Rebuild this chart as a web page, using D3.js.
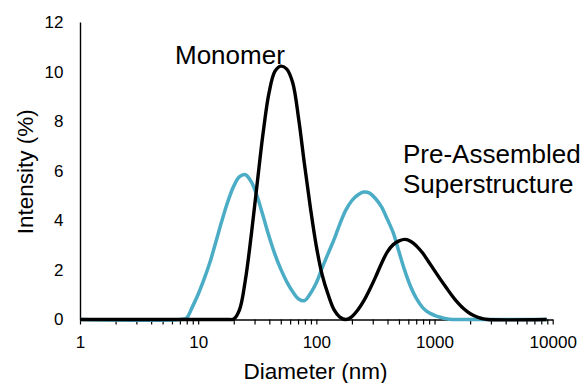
<!DOCTYPE html>
<html>
<head>
<meta charset="utf-8">
<script src="https://cdn.jsdelivr.net/npm/d3@7"></script>
<style>
  body { margin: 0; background: #fff; }
  svg { display: block; font-family: "Liberation Sans", Arial, sans-serif; }
</style>
</head>
<body>
<svg id="chart" width="586" height="383"></svg>
<script>
// diameters (nm) and intensity (%)
const diameters = [1, 7.08, 7.94, 8.91, 10, 11.2, 12.6, 14.1, 15.8, 17.8, 20, 22.4, 25.1, 28.2, 31.6, 35.5, 39.8, 44.7, 50.1, 56.2, 63.1, 70.8, 79.4, 89.1, 100, 112, 126, 141, 158, 178, 200, 224, 251, 282, 316, 355, 398, 447, 501, 562, 631, 708, 794, 891, 1000, 1122, 1259, 1413, 1585, 1778, 1995, 2239, 2512, 2818, 8900];

const blueSeries = [0, 0, 0.05, 0.5, 1.02, 1.62, 2.32, 3.12, 3.95, 4.75, 5.38, 5.76, 5.84, 5.55, 4.96, 4.16, 3.35, 2.62, 2.02, 1.52, 1.12, 0.83, 0.76, 1.05, 1.48, 2.08, 2.67, 3.22, 3.85, 4.42, 4.8, 5.02, 5.14, 5.1, 4.88, 4.55, 4.05, 3.5, 2.72, 1.95, 1.3, 0.82, 0.48, 0.28, 0.17, 0.09, 0.03, 0, 0, 0, 0, 0, 0, 0, 0];

const blackSeries = [0, 0, 0, 0, 0, 0, 0, 0, 0, 0, 0.02, 0.4, 1.6, 3.45, 5.5, 7.55, 9.15, 10.02, 10.22, 10.1, 9.55, 8.1, 6.25, 4.5, 2.95, 1.8, 1.0, 0.4, 0.1, 0, 0.12, 0.38, 0.74, 1.2, 1.7, 2.25, 2.72, 3.02, 3.17, 3.23, 3.15, 2.95, 2.68, 2.33, 1.97, 1.62, 1.28, 0.95, 0.66, 0.42, 0.24, 0.12, 0.04, 0, 0];

const yTicks = [0, 2, 4, 6, 8, 10, 12];
const xMajor = [1, 10, 100, 1000, 10000];

const svg = d3.select("#chart");

const x = d3.scaleLog().domain([1, 10000]).range([80, 552.7]);
const y = d3.scaleLinear().domain([0, 12]).range([319.5, 22]);

// all log ticks 1..9 per decade
const xTickValues = [];
xMajor.forEach(m => {
    for (let k = 1; k <= 9; k++) {
        if (m * k <= 10000) xTickValues.push(m * k);
    }
});

const xAxis = svg.append("g")
    .attr("transform", `translate(0, ${y(0)})`)
    .call(d3.axisBottom(x)
        .tickValues(xTickValues)
        .tickSize(5)
        .tickSizeOuter(0)
        .tickPadding(11.4)
        .tickFormat(d => xMajor.includes(d) ? d : ""));

xAxis.select(".domain").attr("stroke", "#000").attr("stroke-width", 1.4);
xAxis.selectAll(".tick line").attr("stroke", "#000").attr("stroke-width", 1.2);
xAxis.selectAll("text").attr("fill", "#000").style("font-size", "17px")
    .style("font-family", "Liberation Sans, Arial, sans-serif");

const yAxis = svg.append("g")
    .attr("transform", `translate(${x(1)}, 0)`)
    .call(d3.axisLeft(y)
        .tickValues(yTicks)
        .tickSize(0)
        .tickSizeOuter(0)
        .tickPadding(16.5));

yAxis.select(".domain").attr("stroke", "#000").attr("stroke-width", 1.4);
yAxis.selectAll("text").attr("fill", "#000").style("font-size", "17px")
    .style("font-family", "Liberation Sans, Arial, sans-serif");

const line = series => d3.line()
    .x((d, i) => x(diameters[i]))
    .y(d => y(d))
    .curve(d3.curveCatmullRom.alpha(0.5))(series);

svg.append("path")
    .attr("d", line(blueSeries))
    .attr("fill", "none")
    .attr("stroke", "#4bacc6")
    .attr("stroke-width", 3.5);

svg.append("path")
    .attr("d", line(blackSeries))
    .attr("fill", "none")
    .attr("stroke", "#000")
    .attr("stroke-width", 3.4);

// labels
svg.append("text")
    .attr("x", 175).attr("y", 64)
    .style("font-size", "26px")
    .text("Monomer");

svg.append("text")
    .attr("x", 403).attr("y", 162.7)
    .style("font-size", "26px")
    .text("Pre-Assembled");

svg.append("text")
    .attr("x", 403).attr("y", 193.3)
    .style("font-size", "26px")
    .text("Superstructure");

svg.append("text")
    .attr("x", 315.5).attr("y", 379)
    .attr("text-anchor", "middle")
    .style("font-size", "22.5px")
    .text("Diameter (nm)");

svg.append("text")
    .attr("transform", "translate(33, 171.7) rotate(-90)")
    .attr("text-anchor", "middle")
    .style("font-size", "22.5px")
    .text("Intensity (%)");
</script>
</body>
</html>
